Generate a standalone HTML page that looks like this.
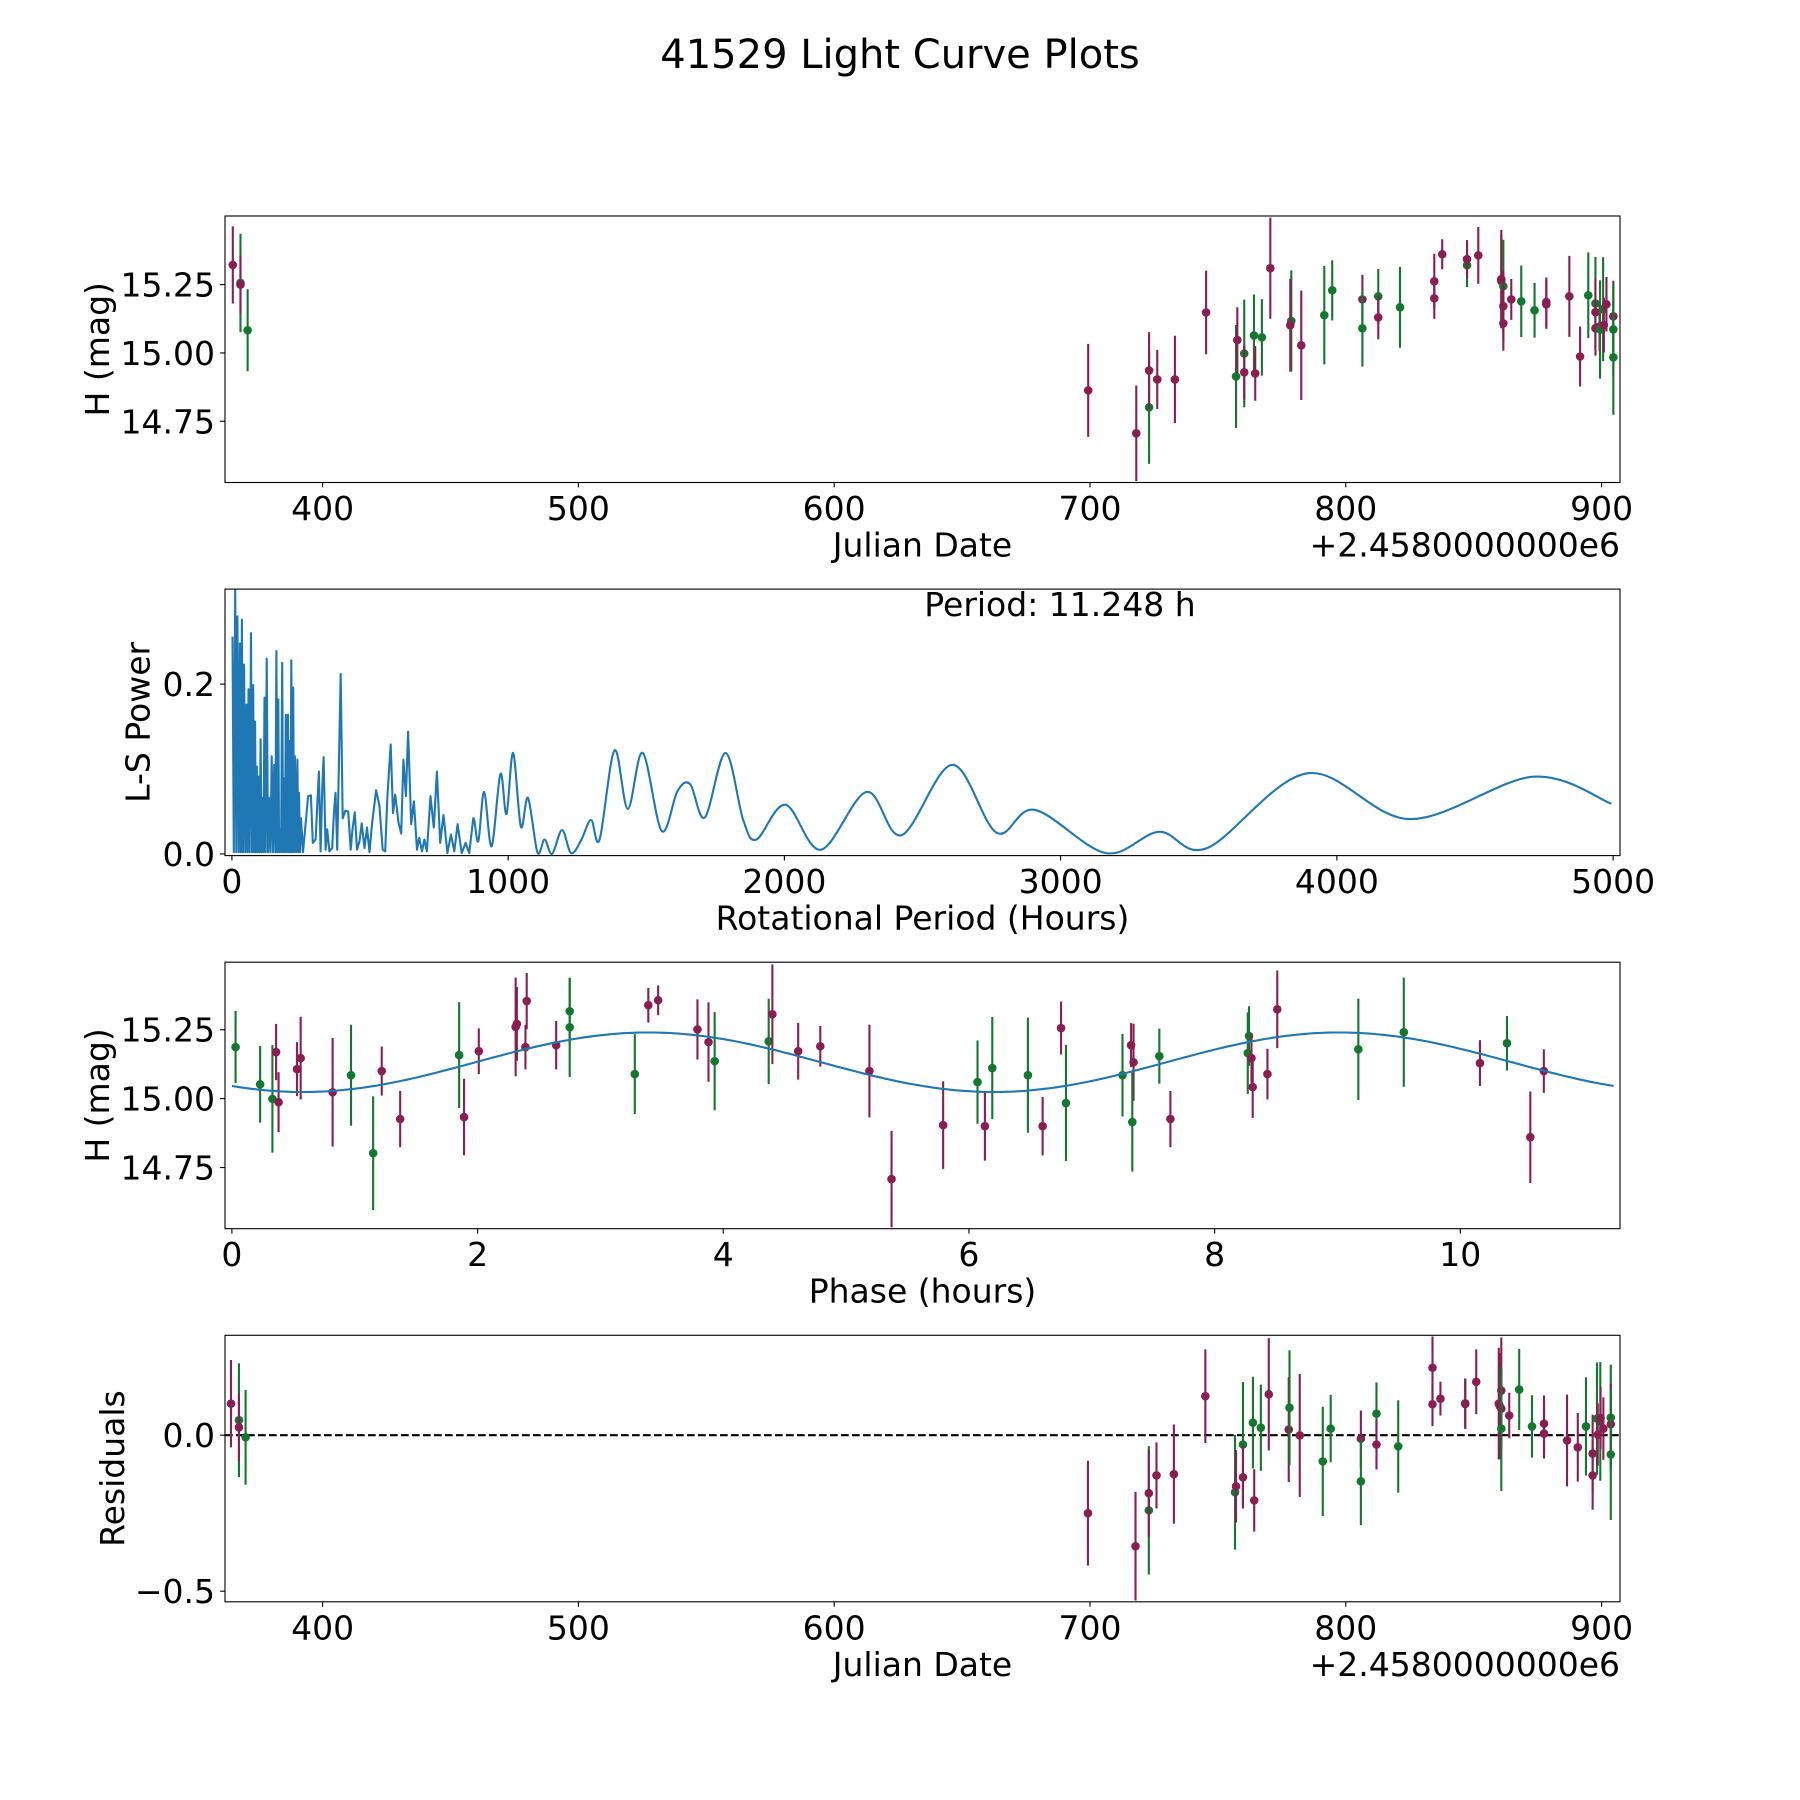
<!DOCTYPE html>
<html><head><meta charset="utf-8"><title>41529 Light Curve Plots</title>
<style>
html,body{margin:0;padding:0;background:#fff;}
svg{display:block;font-family:"DejaVu Sans","Liberation Sans",sans-serif;}
</style></head>
<body>
<svg id="fig" width="1800" height="1800" viewBox="0 0 1800 1800" xmlns="http://www.w3.org/2000/svg">
<rect width="1800" height="1800" fill="#fff"/>
<text x="900" y="68" text-anchor="middle" font-size="40">41529 Light Curve Plots</text>
</svg>
<script>
// ---------- Panel 1: light curve (Julian Date offset from 2458000) ----------
const lcDate = [364.9,367.9,367.9,370.7,
699.3,718.1,723.1,723.1,726.3,733.2,745.4,757.1,757.6,760.3,760.3,764.1,764.6,767.2,770.5,778.7,778.3,782.6,791.6,794.7,
806.5,806.5,812.7,812.7,821.2,834.6,834.6,837.7,847.4,847.4,851.8,860.8,860.8,861.6,861.6,861.6,864.7,868.6,873.8,878.4,878.4,887.4,891.6,894.8,897.6,897.6,897.6,899.2,899.4,900.6,900.9,901.9,904.6,904.6,904.6];
const lcMag = [15.322,15.256,15.25,15.083,
14.863,14.706,14.801,14.936,14.903,14.903,15.148,14.914,15.047,14.998,14.929,15.064,14.925,15.057,15.31,15.117,15.101,15.028,15.138,15.229,
15.196,15.09,15.207,15.13,15.167,15.262,15.2,15.361,15.321,15.343,15.357,15.27,15.263,15.244,15.171,15.108,15.196,15.189,15.156,15.186,15.178,15.207,14.987,15.211,15.181,15.149,15.09,15.096,15.086,15.16,15.102,15.178,15.134,15.086,14.984];
const lcErr = [0.141,0.18,0.107,0.15,
0.17,0.175,0.207,0.14,0.108,0.16,0.153,0.188,0.12,0.197,0.10,0.15,0.10,0.14,0.185,0.185,0.17,0.2,0.18,0.11,
0.09,0.14,0.1,0.08,0.148,0.1,0.075,0.055,0.08,0.07,0.104,0.18,0.17,0.17,0.13,0.1,0.075,0.131,0.1,0.09,0.09,0.148,0.11,0.157,0.17,0.125,0.1,0.09,0.18,0.19,0.1,0.1,0.13,0.17,0.21];
const lcBand = ['m','g','m','g',
'm','m','g','m','m','m','m','g','m','g','m','g','m','g','m','g','m','m','g','g',
'm','g','g','m','g','m','m','m','g','m','m','m','m','g','m','m','m','g','g','m','m','m','m','g','g','m','m','m','g','g','m','m','m','g','g'];
const dateTicks = [400,500,600,700,800,900];
const magTicks = [14.75,15.00,15.25];
const magTickLabels = ['14.75','15.00','15.25'];

// ---------- Panel 2: Lomb-Scargle periodogram ----------
const lsPeriod = [2,12,20,29,36,44,53,60,69,77,84,90,97,104,111,118,126,135,144,153,161,168,174,182,189,195,203,209,215,222,228,237,243,250,
265,276,286,293,303,315,321,327,332,339,345,353,363,369,375,381,394,401,411,421,430,436,445,453,462,470,480,489,498,507,522,534,546,555,563,575,583,591,603,613,621,630,638,649,659,670,678,688,697,706,719,731,742,754,766,780,793,805,817,832,846,859,
874,892,913,940,972,994,1018,1046,1072,1106,1132,1159,1195,1228,1264,1300,1331,1385,1433,1487,1556,1613,1659,1712,1787,1851,1899,2004,2132,2298,2424,2608,2768,2906,3164,3357,3531,3893,4264,4710,4994];
const lsPower = [0.256,0.311,0.280,0.248,0.276,0.223,0.176,0.194,0.260,0.199,0.156,0.103,0.091,0.135,0.066,0.184,0.230,0.066,0.115,0.105,0.239,0.182,0.029,0.225,0.089,0.164,0.164,0.133,0.228,0.196,0.115,0.111,0.072,0.042,
0.029,0.068,0.069,0.013,0.017,0.097,0.003,0.076,0.114,0.005,0.029,0.003,0.007,0.046,0.072,0.005,0.212,0.042,0.051,0.050,0.005,0.027,0.049,0.005,0.015,0.036,0.007,0.031,0.002,0.035,0.075,0.057,0.005,0.003,0.068,0.129,0.048,0.070,0.037,0.024,0.111,0.068,0.144,0.035,0.062,0.005,0.019,0.003,0.017,0.003,0.068,0.031,0.097,0.013,0.046,0.001,0.023,0.003,0.035,0.001,0.013,0.001,
0.042,0.015,0.073,0.009,0.094,0.047,0.119,0.032,0.066,0.002,0.017,0.000,0.028,0.001,0.016,0.040,0.017,0.122,0.053,0.119,0.027,0.074,0.082,0.043,0.119,0.040,0.017,0.058,0.005,0.073,0.022,0.105,0.025,0.052,0.001,0.026,0.007,0.095,0.041,0.091,0.059];
const periodTicks = [0,1000,2000,3000,4000,5000];
const powerTicks = [0.0,0.2];
const bestPeriodLabel = 'Period: 11.248 h';

// ---------- Panel 3: phased light curve ----------
const phHour = [0.03,0.23,0.33,0.36,0.38,0.53,0.56,0.82,0.97,1.15,1.22,1.37,1.85,1.89,2.01,2.31,2.32,2.39,2.40,2.64,2.75,2.75,3.28,3.39,3.47,3.79,3.88,3.93,4.37,4.40,4.61,4.79,5.19,5.37,
5.79,6.07,6.13,6.19,6.48,6.60,6.75,6.79,7.25,7.32,7.34,7.33,7.55,7.64,8.27,8.28,8.30,8.31,8.43,8.51,9.17,9.54,10.16,10.38,10.57,10.68];
const phMag = [15.187,15.052,14.999,15.169,14.987,15.107,15.147,15.023,15.085,14.802,15.100,14.926,15.158,14.933,15.172,15.26,15.271,15.187,15.354,15.194,15.317,15.259,15.089,15.339,15.357,15.251,15.205,15.136,15.208,15.306,15.172,15.19,15.10,14.708,
14.904,15.06,14.90,15.111,15.085,14.90,15.256,14.984,15.085,15.194,15.132,14.915,15.154,14.926,15.165,15.227,15.147,15.042,15.089,15.324,15.179,15.241,15.129,15.201,14.86,15.10];
const phErr = [0.131,0.139,0.195,0.102,0.109,0.098,0.150,0.197,0.183,0.206,0.089,0.102,0.192,0.139,0.083,0.179,0.134,0.081,0.102,0.088,0.12,0.18,0.145,0.063,0.054,0.109,0.144,0.178,0.155,0.181,0.103,0.074,0.168,0.175,
0.159,0.151,0.125,0.185,0.209,0.106,0.096,0.211,0.150,0.08,0.140,0.18,0.1,0.102,0.148,0.108,0.09,0.112,0.092,0.141,0.184,0.198,0.083,0.099,0.166,0.079];
const phBand = ['g','g','g','m','m','m','m','m','g','g','m','m','g','m','m','m','m','m','m','m','g','g','g','m','m','m','m','g','g','m','m','m','m','m',
'm','g','m','g','g','m','m','g','g','m','m','g','g','m','g','g','m','m','m','m','g','g','m','g','m','m'];
const fitMean = 15.132, fitAmp = 0.108, fitPeakPhase = 3.39, fitPeriod = 11.248;
const phaseTicks = [0,2,4,6,8,10];

// ---------- Panel 4: residuals ----------
const resDate = [364.2,367.3,367.3,369.9,
699.2,717.8,723.0,723.0,726.0,732.8,745.1,756.7,757.1,759.8,759.8,763.7,764.2,766.8,769.9,777.7,778.0,782.0,791.0,794.1,805.9,805.9,812.0,812.0,820.5,
833.9,833.9,837.0,846.7,846.7,851.0,859.8,860.2,860.8,860.8,860.8,863.9,867.8,872.8,877.5,877.5,886.5,890.7,893.9,896.5,896.5,898.2,899.5,899.6,898.5,900.7,903.6,903.6,903.6];
const resVal = [0.101,0.048,0.025,-0.007,
-0.250,-0.356,-0.241,-0.186,-0.129,-0.125,0.125,-0.183,-0.164,-0.030,-0.135,0.040,-0.209,0.024,0.131,0.018,0.088,-0.001,-0.084,0.021,-0.011,-0.148,0.069,-0.030,-0.036,
0.216,0.099,0.117,0.102,0.100,0.171,0.101,0.093,0.143,0.085,0.021,0.063,0.146,0.028,0.037,0.005,-0.017,-0.039,0.028,-0.059,-0.129,0.053,0.044,0.055,0.002,0.021,0.056,0.035,-0.062];
const resErr = [0.14,0.182,0.108,0.152,
0.168,0.174,0.206,0.14,0.106,0.159,0.15,0.184,0.116,0.2,0.1,0.147,0.10,0.138,0.18,0.168,0.184,0.197,0.175,0.108,0.09,0.14,0.1,0.08,0.148,
0.1,0.07,0.054,0.08,0.08,0.104,0.179,0.17,0.17,0.13,0.2,0.073,0.13,0.1,0.09,0.08,0.147,0.11,0.157,0.125,0.11,0.18,0.19,0.1,0.1,0.1,0.17,0.13,0.21];
const resBand = ['m','g','m','g',
'm','m','g','m','m','m','m','g','m','g','m','g','m','g','m','m','g','m','g','g','m','g','g','m','g',
'm','m','m','g','m','m','m','m','m','m','g','m','g','g','m','m','m','m','g','m','m','g','g','m','m','m','g','m','g'];
const resTicks = [-0.5,0.0];
const resTickLabels = ['\u22120.5','0.0'];

// ---------- drawing ----------
const NS = 'http://www.w3.org/2000/svg';
const svg = document.getElementById('fig');
const COL = {m:'#8a1e52', g:'#13772f'};
const AX_L = 225, AX_W = 1395, AX_H = 266.5;
const TOPS = [216, 589.1, 962.2, 1335.3];
const FS = 33;

function mk(tag, attrs, parent) {
  const e = document.createElementNS(NS, tag);
  for (const k in attrs) e.setAttribute(k, attrs[k]);
  (parent || svg).appendChild(e);
  return e;
}
function linScale(d0, d1, r0, r1) { return v => r0 + (v - d0) / (d1 - d0) * (r1 - r0); }

function makeAxes(idx, xdom, ydom, name) {
  const top = TOPS[idx];
  const g = mk('g', {});
  
  
  const clipId = 'clip' + idx;
  const cp = mk('clipPath', {id: clipId}, g);
  mk('rect', {x: AX_L, y: top, width: AX_W, height: AX_H}, cp);
  const plot = mk('g', {'clip-path': 'url(#' + clipId + ')'}, g);
  
  
  return {g, plot, top, bottom: top + AX_H,
    x: linScale(xdom[0], xdom[1], AX_L, AX_L + AX_W),
    y: linScale(ydom[0], ydom[1], top + AX_H, top)};
}
function frame(ax, name) {
  const r = mk('rect', {x: AX_L, y: ax.top, width: AX_W, height: AX_H, fill: 'none', stroke: '#000', 'stroke-width': 1.1}, ax.g);
  
  
}
function xTicks(ax, vals, labels, name) {
  vals.forEach((v, i) => {
    const px = ax.x(v);
    const t = mk('line', {x1: px, x2: px, y1: ax.bottom, y2: ax.bottom + 4.9, stroke: '#000', 'stroke-width': 1.1}, ax.g);
    
    
    const tx = mk('text', {x: px, y: ax.bottom + 37.5, 'text-anchor': 'middle', 'font-size': FS}, ax.g);
    
    
    tx.textContent = labels[i];
  });
}
function yTicks(ax, vals, labels, name) {
  vals.forEach((v, i) => {
    const py = ax.y(v);
    const t = mk('line', {x1: AX_L - 4.9, x2: AX_L, y1: py, y2: py, stroke: '#000', 'stroke-width': 1.1}, ax.g);
    
    
    const tx = mk('text', {x: AX_L - 10, y: py + 12, 'text-anchor': 'end', 'font-size': FS}, ax.g);
    
    
    tx.textContent = labels[i];
  });
}
function xLabel(ax, text, name) {
  const t = mk('text', {x: AX_L + AX_W / 2, y: ax.bottom + 74, 'text-anchor': 'middle', 'font-size': FS}, ax.g);
  
  
  t.textContent = text;
}
function yLabel(ax, text, cx, name) {
  const cy = ax.top + AX_H / 2;
  const t = mk('text', {x: cx, y: cy, 'text-anchor': 'middle', 'dominant-baseline': 'central', 'font-size': FS, transform: 'rotate(-90 ' + cx + ' ' + cy + ')'}, ax.g);
  
  
  t.textContent = text;
}
function offsetText(ax, name) {
  const t = mk('text', {x: AX_L + AX_W, y: ax.bottom + 74, 'text-anchor': 'end', 'font-size': FS}, ax.g);
  
  
  t.textContent = '+2.4580000000e6';
}
function errPoints(ax, xs, ys, es, bands, name) {
  xs.forEach((xv, i) => {
    const px = ax.x(xv), py = ax.y(ys[i]);
    const c = COL[bands[i]];
    const pt = mk('g', {}, ax.plot);
    
    
    mk('line', {x1: px, x2: px, y1: ax.y(ys[i] + es[i]), y2: ax.y(ys[i] - es[i]), stroke: c, 'stroke-width': 2.1}, pt);
    mk('circle', {cx: px, cy: py, r: 4.3, fill: c}, pt);
  });
}

// Panel 1
const ax1 = makeAxes(0, [361.85, 907.2], [14.526, 15.501], 'light-curve-panel');
errPoints(ax1, lcDate, lcMag, lcErr, lcBand, 'light-curve');
frame(ax1, 'light-curve');
xTicks(ax1, dateTicks, dateTicks.map(String), 'date-x');
yTicks(ax1, magTicks, magTickLabels, 'mag-y');
xLabel(ax1, 'Julian Date', 'light-curve-x-axis-title');
yLabel(ax1, 'H (mag)', 97.6, 'light-curve-y-axis-title');
offsetText(ax1, 'light-curve-x-offset');

// Panel 2
const ax2 = makeAxes(1, [-25, 5025], [-0.002, 0.312], 'periodogram-panel');
(function () {
  const pts = [];
  for (let i = 0; i < lsPeriod.length; i++) {
    pts.push([ax2.x(lsPeriod[i]), ax2.y(lsPower[i])]);
    if (lsPeriod[i] < 252 && i + 1 < lsPeriod.length) {
      pts.push([ax2.x((lsPeriod[i] + lsPeriod[i + 1]) / 2), ax2.y(0.002)]);
    }
  }
  let d = 'M' + pts[0][0].toFixed(1) + ',' + pts[0][1].toFixed(1);
  for (let i = 1; i < pts.length; i++) {
    const p1 = pts[i - 1], p2 = pts[i];
    if (p1[0] < ax2.x(860)) { d += 'L' + p2[0].toFixed(1) + ',' + p2[1].toFixed(1); continue; }
    const p0 = pts[i - 2] || p1, p3 = pts[i + 1] || p2;
    const c1x = p1[0] + (p2[0] - p0[0]) / 6, c1y = p1[1] + (p2[1] - p0[1]) / 6;
    const c2x = p2[0] - (p3[0] - p1[0]) / 6, c2y = p2[1] - (p3[1] - p1[1]) / 6;
    d += 'C' + c1x.toFixed(1) + ',' + c1y.toFixed(1) + ' ' + c2x.toFixed(1) + ',' + c2y.toFixed(1) + ' ' + p2[0].toFixed(1) + ',' + p2[1].toFixed(1);
  }
  const path = mk('path', {d: d, fill: 'none', stroke: '#1f77b4', 'stroke-width': 2.1, 'stroke-linejoin': 'round'}, ax2.plot);
  
  
})();
frame(ax2, 'periodogram');
xTicks(ax2, periodTicks, periodTicks.map(String), 'period-x');
yTicks(ax2, powerTicks, powerTicks.map(v => v.toFixed(1)), 'power-y');
xLabel(ax2, 'Rotational Period (Hours)', 'periodogram-x-axis-title');
yLabel(ax2, 'L-S Power', 138, 'periodogram-y-axis-title');
(function () {
  const t = mk('text', {x: 1060, y: 616, 'text-anchor': 'middle', 'font-size': FS}, ax2.g);
  
  
  t.textContent = bestPeriodLabel;
})();

// Panel 3
const ax3 = makeAxes(2, [-0.056, 11.30], [14.528, 15.495], 'phase-panel');
errPoints(ax3, phHour, phMag, phErr, phBand, 'phased');
(function () {
  let d = '';
  for (let k = 0; k <= 300; k++) {
    const ph = fitPeriod * k / 300;
    const m = fitMean + fitAmp * Math.cos(4 * Math.PI * (ph - fitPeakPhase) / fitPeriod);
    d += (k ? 'L' : 'M') + ax3.x(ph).toFixed(1) + ',' + ax3.y(m).toFixed(1);
  }
  const path = mk('path', {d: d, fill: 'none', stroke: '#1f77b4', 'stroke-width': 2.1}, ax3.plot);
  
  
})();
frame(ax3, 'phase');
xTicks(ax3, phaseTicks, phaseTicks.map(String), 'phase-x');
yTicks(ax3, magTicks, magTickLabels, 'phase-mag-y');
xLabel(ax3, 'Phase (hours)', 'phase-x-axis-title');
yLabel(ax3, 'H (mag)', 97.6, 'phase-y-axis-title');

// Panel 4
const ax4 = makeAxes(3, [361.85, 907.2], [-0.534, 0.32], 'residuals-panel');
(function () {
  const z = ax4.y(0);
  const l = mk('line', {x1: AX_L, x2: AX_L + AX_W, y1: z, y2: z, stroke: '#000', 'stroke-width': 2.1, 'stroke-dasharray': '7.7,3.3'}, ax4.plot);
  
  
})();
errPoints(ax4, resDate, resVal, resErr, resBand, 'residual');
frame(ax4, 'residuals');
xTicks(ax4, dateTicks, dateTicks.map(String), 'res-date-x');
yTicks(ax4, resTicks, resTickLabels, 'res-y');
xLabel(ax4, 'Julian Date', 'residuals-x-axis-title');
yLabel(ax4, 'Residuals', 112.5, 'residuals-y-axis-title');
offsetText(ax4, 'residuals-x-offset');
</script>
</body></html>
